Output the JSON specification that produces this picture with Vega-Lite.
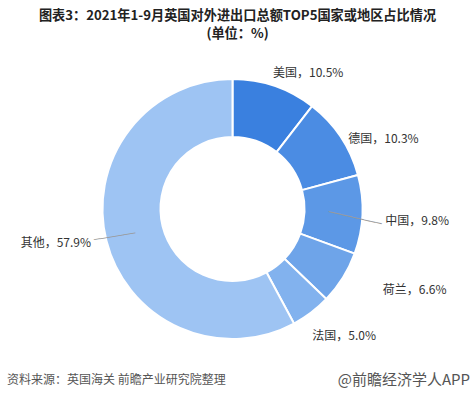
{
  "$schema": "https://vega.github.io/schema/vega-lite/v6.json",
  "autosize": "none",
  "width": 465,
  "height": 320,
  "padding": {"left": 0, "top": 49, "right": 9, "bottom": 29},
  "background": "white",
  "config": {"view": {"stroke": null}},
  "title": {
    "text": ["图表3：2021年1-9月英国对外进出口总额TOP5国家或地区占比情况", "(单位：%)"],
    "font": "Noto Sans CJK SC",
    "fontSize": 13.2,
    "fontWeight": "bold",
    "color": "#222222",
    "anchor": "middle",
    "offset": 8,
    "lineHeight": 18,
    "dx": 5
  },
  "data": {
    "values": [
      {"name": "美国", "value": 10.5, "rank": 1, "label": "美国，10.5%"},
      {"name": "德国", "value": 10.3, "rank": 2, "label": "德国，10.3%"},
      {"name": "中国", "value": 9.8, "rank": 3, "label": "中国，9.8%"},
      {"name": "荷兰", "value": 6.6, "rank": 4, "label": "荷兰，6.6%"},
      {"name": "法国", "value": 5.0, "rank": 5, "label": "法国，5.0%"},
      {"name": "其他", "value": 57.9, "rank": 6, "label": "其他，57.9%"}
    ]
  },
  "layer": [
    {
      "mark": {"type": "arc", "outerRadius": 130, "innerRadius": 72, "stroke": "white", "strokeWidth": 2},
      "encoding": {
        "theta": {"field": "value", "type": "quantitative", "stack": true},
        "order": {"field": "rank", "type": "quantitative", "sort": "ascending"},
        "color": {
          "field": "name",
          "type": "nominal",
          "scale": {
            "domain": ["美国", "德国", "中国", "荷兰", "法国", "其他"],
            "range": ["#3A80DF", "#4B8CE3", "#5C98E6", "#6EA4E9", "#82B2EE", "#9EC4F3"]
          },
          "legend": null
        }
      }
    },
    {
      "mark": {
        "type": "text",
        "radius": 150,
        "font": "Noto Sans CJK SC",
        "fontSize": 12,
        "color": "#333333",
        "baseline": "middle",
        "align": {"expr": "datum.rank === 6 ? 'right' : 'left'"},
        "dx": {"expr": "[-8, -9, 3, 23, -11, 4][datum.rank - 1]"},
        "dy": {"expr": "[6, 13, 6, 2, 8, -3][datum.rank - 1]"}
      },
      "encoding": {
        "theta": {"field": "value", "type": "quantitative", "stack": true},
        "order": {"field": "rank", "type": "quantitative", "sort": "ascending"},
        "detail": {"field": "name"},
        "text": {"field": "label"}
      }
    },
    {
      "mark": {"type": "text", "radius": 96, "font": "DejaVu Sans Mono", "fontSize": 10, "color": "#9a9a9a", "align": "left", "baseline": "middle", "angle": 13, "dy": -1},
      "encoding": {
        "theta": {"field": "value", "type": "quantitative", "stack": true},
        "order": {"field": "rank", "type": "quantitative", "sort": "ascending"},
        "detail": {"field": "name"},
        "text": {"condition": {"test": "datum.name === '中国'", "value": "─────────"}, "value": ""}
      }
    },
    {
      "mark": {"type": "text", "radius": 100, "font": "DejaVu Sans Mono", "fontSize": 10, "color": "#9a9a9a", "align": "right", "baseline": "middle", "angle": -9.2},
      "encoding": {
        "theta": {"field": "value", "type": "quantitative", "stack": true},
        "order": {"field": "rank", "type": "quantitative", "sort": "ascending"},
        "detail": {"field": "name"},
        "text": {"condition": {"test": "datum.name === '其他'", "value": "───────"}, "value": ""}
      }
    },
    {
      "data": {"values": [{}]},
      "mark": {"type": "text", "text": "资料来源：英国海关 前瞻产业研究院整理", "x": 7, "y": "height", "dy": 11, "align": "left", "baseline": "middle", "font": "Noto Sans CJK SC", "fontSize": 12, "color": "#555555"},
      "encoding": {}
    },
    {
      "data": {"values": [{}]},
      "mark": {"type": "text", "text": "@前瞻经济学人APP", "x": "width", "y": "height", "dx": 5, "dy": 11, "align": "right", "baseline": "middle", "font": "Noto Sans CJK SC", "fontSize": 15, "color": "#555555"},
      "encoding": {}
    }
  ]
}
